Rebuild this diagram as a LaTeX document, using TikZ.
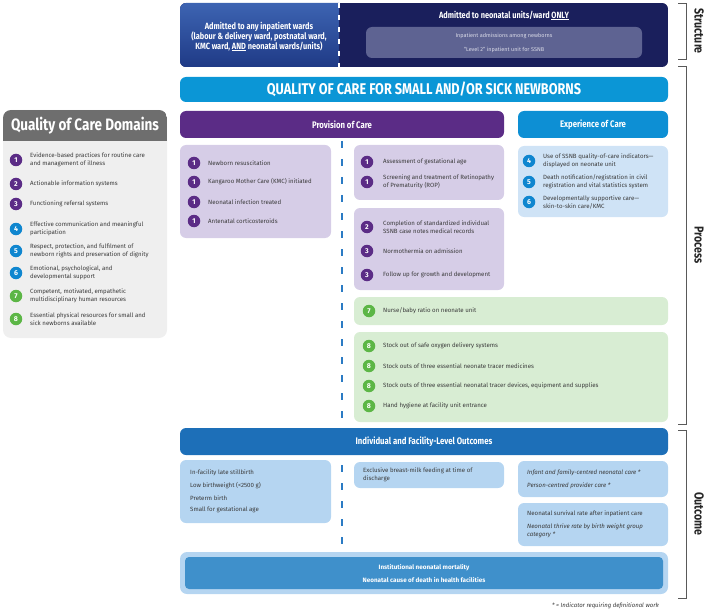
\documentclass[tikz,border=0pt]{standalone}
\usepackage{fontspec}
\setmainfont{Fira Sans}
\newfontfamily\condfont[FakeStretch=0.82]{Fira Sans}
\usepackage{tikz}

\definecolor{purp}{HTML}{5B2C86}
\definecolor{cyanbar}{HTML}{0B96D6}
\definecolor{expblue}{HTML}{0D8FD4}
\definecolor{badgeblue}{HTML}{0F86CF}
\definecolor{badgegreen}{HTML}{5CB646}
\definecolor{lav}{HTML}{D6CDE7}
\definecolor{explight}{HTML}{CFE3F6}
\definecolor{greenlight}{HTML}{D8EDD3}
\definecolor{outbar}{HTML}{1D6FB8}
\definecolor{outlight}{HTML}{B5D5F1}
\definecolor{mortblue}{HTML}{3F90CB}
\definecolor{navy}{HTML}{1A1F5C}
\definecolor{strtop}{HTML}{3D64B2}
\definecolor{strbot}{HTML}{1F3A86}
\definecolor{innerbox}{HTML}{5E6392}
\definecolor{innertext}{HTML}{DADBE8}
\definecolor{panelgrey}{HTML}{EFEFEF}
\definecolor{headgrey}{HTML}{6E6E6E}
\definecolor{txtgrey}{HTML}{3A3A3A}
\definecolor{dashblue}{HTML}{2B7BC4}

\tikzset{
  badge/.style={circle, inner sep=0pt, minimum size=12.5pt, text=white,
    font=\fontsize{7}{7}\selectfont\bfseries},
  itemtext/.style={anchor=west, align=left, inner sep=0pt, text=txtgrey,
    font=\fontsize{6.1}{8}\selectfont},
  headbar/.style={rounded corners=6pt, inner sep=0pt, text=white,
    font=\condfont\bfseries\fontsize{9.5}{11}\selectfont},
  panel/.style={rounded corners=6pt},
  bracket/.style={draw=black!65, line width=0.8pt},
  sidelabel/.style={rotate=-90, text=black!85,
    font=\condfont\bfseries\fontsize{13}{13}\selectfont}
}

\begin{document}
\begin{tikzpicture}[x=1pt,y=-1pt]
%
\path[use as bounding box] (0,0) rectangle (708,612);
%
\newcommand{\qbadge}[4]{
  \ifnum#3<4 \def\bcol{purp}\else\ifnum#3<7 \def\bcol{badgeblue}\else\def\bcol{badgegreen}\fi\fi
  \node[badge, fill=\bcol] (#4) at (#1,#2) {#3};
}
\newcommand{\qitem}[6]{
  \qbadge{#1}{#3}{#4}{#5b}
  \node[itemtext] (#5) at (#2,#3) {#6};
}
\newcommand{\sidebracket}[4]{
  \draw[bracket] (678,#1) -- (686,#1) -- (686,#2) -- (678,#2);
  \node[sidelabel] (#4) at (699,{(#1+#2)/2}) {#3};
}
%
% structure
\begin{scope}
  \clip[rounded corners=6pt] (180,3) rectangle (668,67);
  \fill[navy] (180,3) rectangle (668,67);
  \shade[top color=strtop, bottom color=strbot] (180,3) rectangle (339,67);
\end{scope}
\coordinate (stop) at (339,3);
\coordinate (sbot) at (339,67);
\draw[white, line width=1.2pt, dash pattern=on 5pt off 7pt] (stop) -- (sbot);
\node[text=white, align=center, font=\condfont\bfseries\fontsize{9}{10}\selectfont] (anyward) at (259,36.5)
  {Admitted to any inpatient wards\\(labour \& delivery ward, postnatal ward,\\KMC ward, \underline{AND} neonatal wards/units)};
\node[text=white, font=\condfont\bfseries\fontsize{9}{10}\selectfont] (neoward) at (504,15.5)
  {Admitted to neonatal units/ward \underline{ONLY}};
\node[fill=innerbox, rounded corners=6pt, minimum width=276, minimum height=31, inner sep=0pt] (inner) at (504,42.5) {};
\node[text=innertext, font=\fontsize{5.5}{5.5}\selectfont] (inadm) at (504,36) {Inpatient admissions among newborns};
\node[text=innertext, font=\fontsize{5.5}{5.5}\selectfont] (lvl2) at (504,50) {“Level 2” inpatient unit for SSNB};
%
% domains panel
\fill[panelgrey, rounded corners=8pt] (3,110) rectangle (167,338);
\begin{scope}
  \clip[rounded corners=8pt] (3,110) rectangle (167,338);
  \fill[headgrey] (3,110) rectangle (167,141);
\end{scope}
\node[text=white, font=\condfont\bfseries\fontsize{16.5}{16.5}\selectfont] (domtitle) at (85,126) {Quality of Care Domains};
\foreach \n/\y/\txt in {
  1/160/{Evidence-based practices for routine care\\and management of illness},
  2/184/{Actionable information systems},
  3/204/{Functioning referral systems},
  4/229/{Effective communication and meaningful\\participation},
  5/251/{Respect, protection, and fulfilment of\\newborn rights and preservation of dignity},
  6/273/{Emotional, psychological, and\\developmental support},
  7/296/{Competent, motivated, empathetic\\multidisciplinary human resources},
  8/319/{Essential physical resources for small and\\sick newborns available}}
  {\qitem{16}{30}{\y}{\n}{dom\n}{\txt}}
%
% dashed divider
\coordinate (dtop) at (342,141);
\coordinate (dbot) at (342,546);
\draw[dashblue, line width=1.6pt, dash pattern=on 7pt off 11pt] (dtop) -- (dbot);
%
% process
\node[headbar, fill=cyanbar, minimum width=488, minimum height=25,
  font=\condfont\bfseries\fontsize{15.5}{15.5}\selectfont] (qoc) at (424,89.5)
  {QUALITY OF CARE FOR SMALL AND/OR SICK NEWBORNS};
\node[headbar, fill=purp, minimum width=324, minimum height=27] (prov) at (342,124.5) {Provision of Care};
\node[headbar, fill=expblue, minimum width=150, minimum height=27] (expc) at (593,124.5) {Experience of Care};
%
\fill[lav, panel] (180,145) rectangle (331,238);
\foreach \y/\txt [count=\i] in {163/{Newborn resuscitation}, 182/{Kangaroo Mother Care (KMC) initiated},
  202/{Neonatal infection treated}, 221/{Antenatal corticosteroids}}
  {\qitem{194}{208}{\y}{1}{pa\i}{\txt}}
%
\fill[lav, panel] (354,145) rectangle (504,200);
\foreach \n/\y/\txt [count=\i] in {1/162/{Assessment of gestational age},
  1/182/{Screening and treatment of Retinopathy\\of Prematurity (ROP)}}
  {\qitem{367}{383}{\y}{\n}{pb\i}{\txt}}
%
\fill[lav, panel] (354,208) rectangle (504,290);
\foreach \n/\y/\txt [count=\i] in {2/227/{Completion of standardized individual\\SSNB case notes medical records},
  3/251/{Normothermia on admission}, 3/275/{Follow up for growth and development}}
  {\qitem{367}{383}{\y}{\n}{pc\i}{\txt}}
%
\fill[explight, panel] (518,146) rectangle (668,217);
\foreach \n/\y/\txt in {4/161/{Use of SSNB quality-of-care indicators—\\displayed on neonate unit},
  5/182/{Death notification/registration in civil\\registration and vital statistics system},
  6/202/{Developmentally supportive care—\\skin-to-skin care/KMC}}
  {\qitem{529}{543}{\y}{\n}{ex\n}{\txt}}
%
\fill[greenlight, panel] (354,297) rectangle (668,325);
\qitem{369}{383}{311}{7}{nurse}{Nurse/baby ratio on neonate unit}
%
\fill[greenlight, panel] (354,332) rectangle (668,422);
\foreach \y/\txt [count=\i] in {346/{Stock out of safe oxygen delivery systems},
  366/{Stock outs of three essential neonate tracer medicines},
  386/{Stock outs of three essential neonatal tracer devices, equipment and supplies},
  406/{Hand hygiene at facility unit entrance}}
  {\qitem{369}{383}{\y}{8}{res\i}{\txt}}
%
% outcome
\node[headbar, fill=outbar, minimum width=488, minimum height=27] (outc) at (424,441.5) {Individual and Facility-Level Outcomes};
%
\fill[outlight, panel] (180,460) rectangle (331,523);
\foreach \y/\txt [count=\i] in {473/{In-facility late stillbirth}, 486/{Low birthweight (<2500 g)},
  498/{Preterm birth}, 510/{Small for gestational age}}
  {\node[itemtext] (oa\i) at (190,\y) {\txt};}
%
\fill[outlight, panel] (354,462) rectangle (504,488);
\node[itemtext] (breast) at (363,475) {Exclusive breast-milk feeding at time of\\discharge};
%
\fill[outlight, panel] (518,461) rectangle (668,497);
\node[itemtext, font=\fontsize{6.1}{8}\selectfont\itshape] (ifcare) at (527,473) {Infant and family-centred neonatal care *};
\node[itemtext, font=\fontsize{6.1}{8}\selectfont\itshape] (pcare) at (527,486) {Person-centred provider care *};
%
\fill[outlight, panel] (518,503) rectangle (668,546);
\node[itemtext] (surv) at (527,514) {Neonatal survival rate after inpatient care};
\node[itemtext, font=\fontsize{6.1}{8}\selectfont\itshape] (thrive) at (527,531) {Neonatal thrive rate by birth weight group\\category *};
%
\fill[outlight, rounded corners=7pt] (180,552) rectangle (668,594);
\fill[mortblue, rounded corners=4pt] (185,557) rectangle (663,589);
\node[text=white, font=\fontsize{6.3}{6.3}\selectfont\bfseries] (mort) at (424,568) {Institutional neonatal mortality};
\node[text=white, font=\fontsize{6.3}{6.3}\selectfont\bfseries] (cause) at (424,580) {Neonatal cause of death in health facilities};
%
\node[anchor=east, inner sep=0pt, text=txtgrey, font=\fontsize{6}{6}\selectfont\itshape] (foot) at (659,606)
  {* = Indicator requiring definitional work};
%
% side brackets
\sidebracket{3}{59}{Structure}{lstruct}
\sidebracket{66}{424}{Process}{lproc}
\sidebracket{430}{598}{Outcome}{lout}
%
\end{tikzpicture}
\end{document}
